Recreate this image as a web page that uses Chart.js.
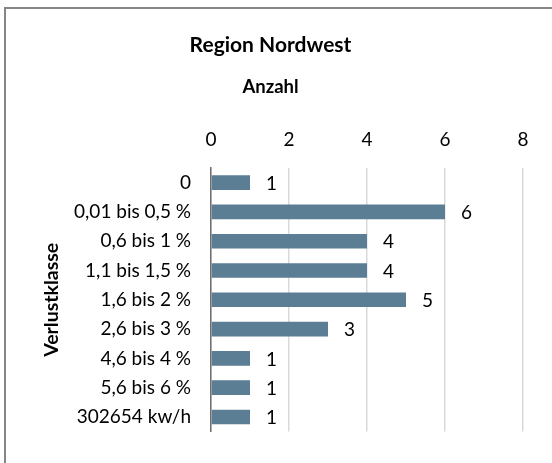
<!DOCTYPE html>
<html lang="de">
<head>
<meta charset="utf-8">
<title>Region Nordwest</title>
<script src="https://cdn.jsdelivr.net/npm/chart.js@4"></script>
<style>
    html, body { margin: 0; padding: 0; background: #fff; overflow: hidden; }
    #rahmen {
        position: absolute; left: 4px; top: 7px; width: 600px; height: 500px;
        border-left: 2px solid #868686; border-top: 2px solid #868686;
    }
    #wrap { position: absolute; left: 0; top: 0; width: 552px; height: 463px; }
</style>
</head>
<body>
<div id="rahmen"></div>
<div id="wrap"><canvas id="verlustChart" width="552" height="463"></canvas></div>
<script>
// Daten
const verlustklassen = ['0', '0,01 bis 0,5 %', '0,6 bis 1 %', '1,1 bis 1,5 %', '1,6 bis 2 %', '2,6 bis 3 %', '4,6 bis 4 %', '5,6 bis 6 %', '302654 kw/h'];
const anzahl = [1, 6, 4, 4, 5, 3, 1, 1, 1];
const achseMax = 8;
const achseSchritt = 2;

const schrift = 'Lato';
const balkenFarbe = '#5b7e94';

// Werte rechts neben den Balken
const wertePlugin = {
    id: 'werte',
    afterDatasetsDraw(chart) {
        const ctx = chart.ctx;
        const meta = chart.getDatasetMeta(0);
        ctx.save();
        ctx.font = '19px ' + schrift;
        ctx.fillStyle = '#000';
        ctx.textAlign = 'left';
        ctx.textBaseline = 'middle';
        meta.data.forEach((bar, i) => {
            ctx.fillText(String(anzahl[i]), bar.x + 16, bar.y + 1);
        });
        ctx.restore();
    }
};

new Chart(document.getElementById('verlustChart'), {
    type: 'bar',
    data: {
        labels: verlustklassen,
        datasets: [{
            label: 'Anzahl',
            data: anzahl,
            backgroundColor: balkenFarbe,
            borderWidth: 0,
            categoryPercentage: 1,
            barPercentage: 0.5
        }]
    },
    options: {
        indexAxis: 'y',
        responsive: false,
        animation: false,
        layout: { padding: { left: 18, right: 29, top: 0, bottom: 26 } },
        plugins: {
            legend: { display: false },
            tooltip: { enabled: false },
            title: {
                display: true,
                text: 'Region Nordwest',
                color: '#000',
                font: { family: schrift, size: 21, weight: 'bold' },
                padding: { top: 32.4, bottom: 0 }
            },
            subtitle: {
                display: true,
                text: 'Anzahl',
                color: '#000',
                font: { family: schrift, size: 18.5, weight: 'bold' },
                padding: { top: 18.3, bottom: 0 }
            }
        },
        scales: {
            x: {
                position: 'top',
                min: 0,
                max: achseMax,
                ticks: {
                    stepSize: achseSchritt,
                    color: '#000',
                    padding: 16.6,
                    font: { family: schrift, size: 19 }
                },
                grid: { color: '#d9d9d9', lineWidth: 1.5, drawTicks: false },
                border: { display: false },
                afterFit(scale) { scale.height = 69.9; }
            },
            y: {
                ticks: {
                    color: '#000',
                    padding: 20,
                    font: { family: schrift, size: 19 }
                },
                grid: { display: false, drawTicks: false },
                border: { display: true, color: '#6e6e6e', width: 1.5 },
                title: {
                    display: true,
                    text: 'Verlustklasse',
                    color: '#000',
                    font: { family: schrift, size: 19.5, weight: 'bold' },
                    padding: { top: 22.3, bottom: 0 }
                },
                afterFit(scale) { scale.width = 193; }
            }
        }
    },
    plugins: [wertePlugin]
});
</script>
</body>
</html>
